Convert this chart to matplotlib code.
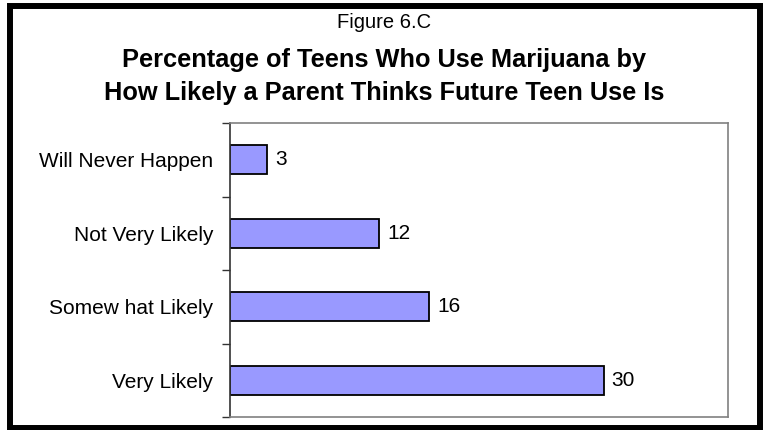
import matplotlib
matplotlib.use("Agg")
import matplotlib.pyplot as plt
from matplotlib.patches import Rectangle
import numpy as np

categories = ["Very Likely", "Somew hat Likely", "Not Very Likely", "Will Never Happen"]
values = [30, 16, 12, 3]
title_small = "Figure 6.C"
title_line1 = "Percentage of Teens Who Use Marijuana by"
title_line2 = "How Likely a Parent Thinks Future Teen Use Is"

plt.rcParams['font.family'] = ['Liberation Sans', 'DejaVu Sans']

W, H = 765, 430
fig = plt.figure(figsize=(W / 100, H / 100), dpi=100)
fig.patch.set_facecolor("white")


def fx(px):
    return px / W


def fy(py):
    return 1 - py / H


# outer frame
frame = Rectangle((fx(10), fy(428)), fx(760) - fx(10), fy(6) - fy(428),
                  transform=fig.transFigure, fill=False, edgecolor="black",
                  linewidth=4.3, zorder=10)
fig.add_artist(frame)

ax = fig.add_axes([fx(230), fy(417), fx(728) - fx(230), fy(123) - fy(417)])
y = np.arange(len(categories))
ax.barh(y, values, height=0.4, color="#9999FF", edgecolor="black", linewidth=1.3)
ax.set_xlim(0, 40)
ax.set_ylim(-0.5, len(categories) - 0.5)

ax.set_yticks(y)
ax.set_yticklabels(categories, fontsize=15)
ax.set_yticks(np.arange(-0.5, len(categories), 1.0), minor=True)
ax.tick_params(axis="y", which="major", length=0, pad=12)
ax.tick_params(axis="y", which="minor", length=6, width=1, color="#333333", direction="out")
ax.set_xticks([])

for s in ["top", "right", "bottom"]:
    ax.spines[s].set_color("#808080")
    ax.spines[s].set_linewidth(1.2)
ax.spines["left"].set_color("#333333")
ax.spines["left"].set_linewidth(1.2)

for yi, v in zip(y, values):
    ax.text(v + 0.65, yi, str(v), va="center", ha="left", fontsize=15)

fig.text(fx(384), fy(22), title_small, ha="center", va="center", fontsize=14.5)
fig.text(fx(384), fy(67), title_line1, ha="center", va="baseline", fontsize=18.3,
         fontweight="bold")
fig.text(fx(384), fy(100), title_line2, ha="center", va="baseline", fontsize=18.3,
         fontweight="bold")

fig.savefig("out.png", dpi=100)
